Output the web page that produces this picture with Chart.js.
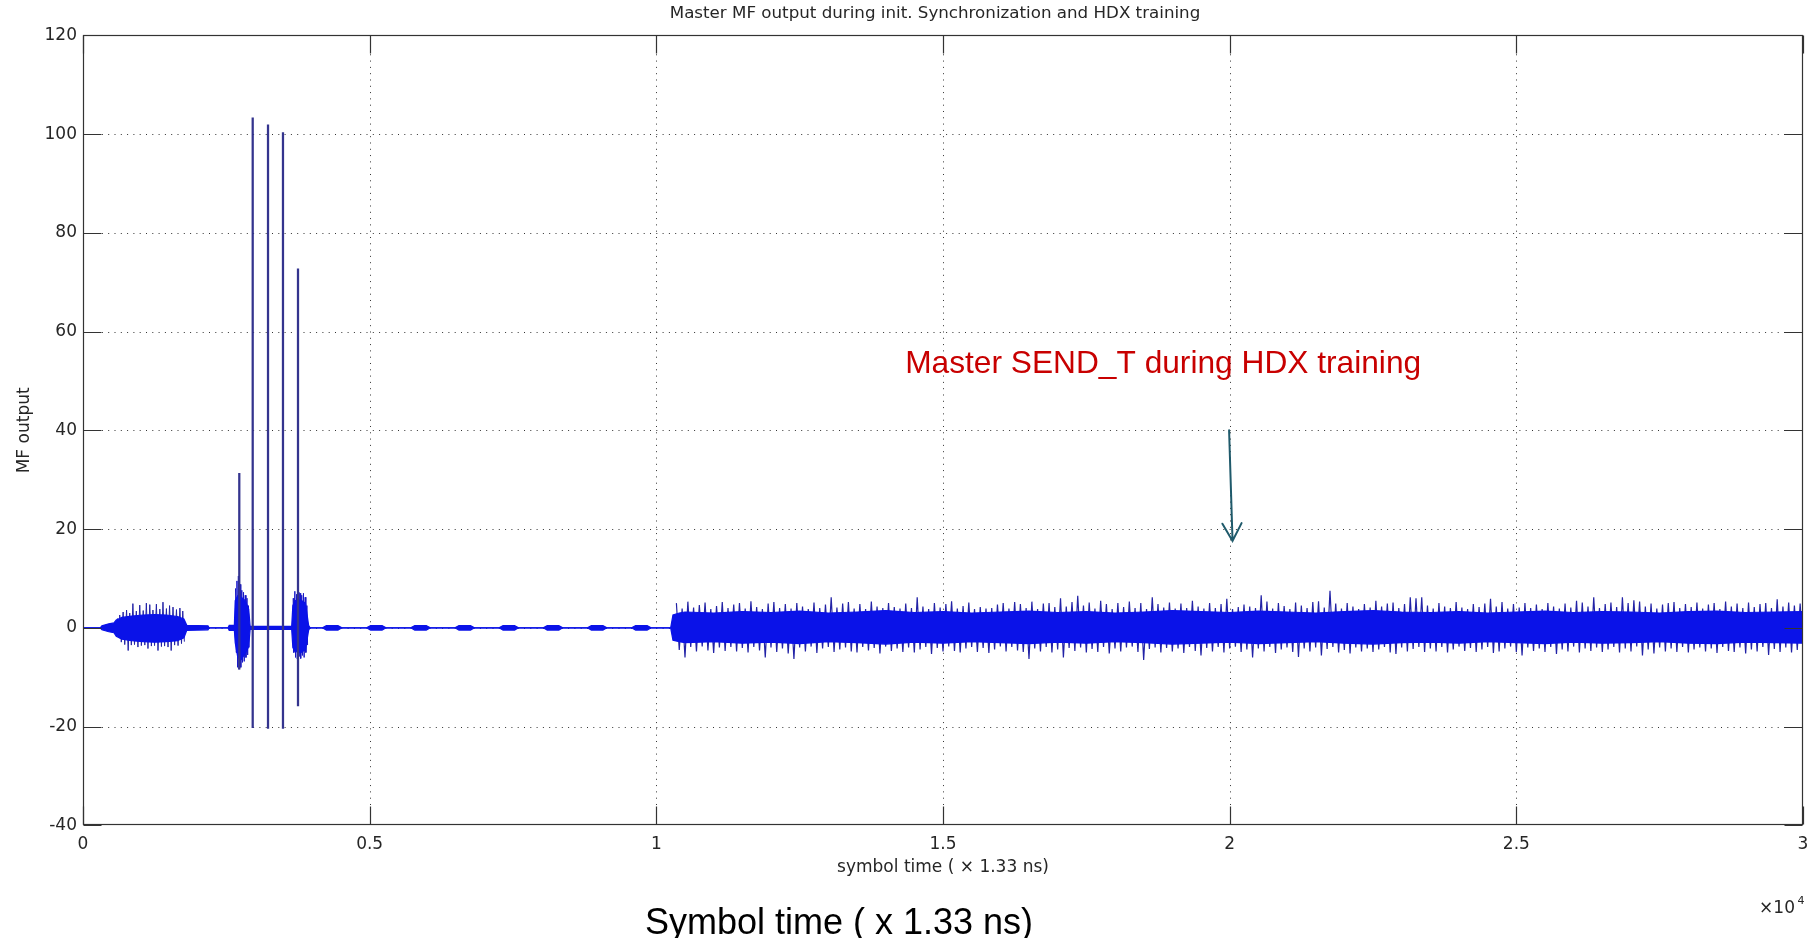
<!DOCTYPE html>
<html>
<head>
<meta charset="utf-8">
<script src="https://cdn.jsdelivr.net/npm/chart.js@4.4.1/dist/chart.umd.min.js"></script>
<style>
html,body{margin:0;padding:0;background:#fff;}
#wrap{position:relative;width:1812px;height:938px;overflow:hidden;background:#fff;}
#c{position:absolute;left:0;top:0;}
#bigLabel{position:absolute;left:839px;top:904px;transform:translateX(-50%);font-family:"Liberation Sans",Arial,sans-serif;font-size:36px;line-height:36px;white-space:nowrap;color:#000;}
</style>
</head>
<body>
<div id="wrap">
<canvas id="c" width="1812" height="938"></canvas>
<div id="bigLabel">Symbol time ( x 1.33 ns)</div>
</div>
<script>
// ---------------- text ----------------
const TITLE = 'Master MF output during init. Synchronization and HDX training';
const X_LABEL = 'symbol time ( \u00d7 1.33 ns)';
const Y_LABEL = 'MF output';
const X_EXPONENT = '4';
const NOTE_TEXT = 'Master SEND_T during HDX training';

// ---------------- ticks ----------------
const xTickValues = [0, 5000, 10000, 15000, 20000, 25000, 30000];
const xTickLabels = ['0', '0.5', '1', '1.5', '2', '2.5', '3'];
const yTickValues = [-40, -20, 0, 20, 40, 60, 80, 100, 120];
const yTickLabels = ['-40', '-20', '0', '20', '40', '60', '80', '100', '120'];

// ---------------- signal envelope before training (symbol index, upper, lower) ----------------
const envX = [0, 300, 330, 450, 540, 580, 680, 850, 1050, 1250, 1450, 1650, 1760, 1810, 2180, 2200,
  2530, 2550, 2640, 2655, 2700, 2760, 2830, 2890, 2915, 3640, 3660, 3700, 3800, 3880, 3935, 3960,
  4176, 4246, 4446, 4516, 4946, 5016, 5216, 5286, 5717, 5787, 5987, 6057, 6488, 6558, 6758, 6828,
  7257, 7327, 7527, 7597, 8028, 8098, 8298, 8368, 8798, 8868, 9068, 9138, 9569, 9639, 9839, 9909,
  10250, 10290, 10400];
const envHi = [0, 0, 0.4, 0.8, 1.0, 1.6, 2.1, 2.4, 2.6, 2.7, 2.6, 2.3, 1.8, 0.5, 0.4, 0,
  0, 0.5, 0.5, 5.5, 6.5, 6.2, 5.5, 3.8, 0.3, 0.3, 4.5, 5.5, 5.6, 5.0, 0.5, 0,
  0, 0.45, 0.45, 0, 0, 0.45, 0.45, 0, 0, 0.45, 0.45, 0, 0, 0.45, 0.45, 0,
  0, 0.45, 0.45, 0, 0, 0.45, 0.45, 0, 0, 0.45, 0.45, 0, 0, 0.45, 0.45, 0,
  0, 2.6, 3.0];
const envLo = [0, 0, -0.4, -0.8, -1.0, -1.7, -2.3, -2.6, -2.8, -2.9, -2.8, -2.6, -2.0, -0.5, -0.4, 0,
  0, -0.5, -0.5, -3.0, -6.0, -6.4, -5.2, -3.8, -0.3, -0.3, -4.0, -4.8, -5.0, -4.4, -0.5, 0,
  0, -0.45, -0.45, 0, 0, -0.45, -0.45, 0, 0, -0.45, -0.45, 0, 0, -0.45, -0.45, 0,
  0, -0.45, -0.45, 0, 0, -0.45, -0.45, 0, 0, -0.45, -0.45, 0, 0, -0.45, -0.45, 0,
  0, -2.5, -2.8];

// ---------------- training band core (every 500 symbols from 10500) ----------------
const CORE_START = 10500;
const CORE_STEP = 500;
const coreHi = [3.2, 3.0, 3.3, 3.1, 3.4, 3.0, 3.2, 3.5, 3.1, 3.3, 3.0, 3.2, 3.4, 3.1, 3.3, 3.0, 3.2, 3.5, 3.3, 3.1,
  3.4, 3.2, 3.0, 3.3, 3.5, 3.2, 3.1, 3.3, 3.0, 3.2, 3.4, 3.1, 3.3, 3.2, 3.0, 3.3, 3.4, 3.1, 3.2, 3.3];
const coreLo = [-3.0, -2.8, -3.1, -2.9, -3.2, -2.8, -3.0, -3.3, -2.9, -3.1, -2.8, -3.0, -3.2, -2.9, -3.1, -2.8, -3.0, -3.3, -3.1, -2.9,
  -3.2, -3.0, -2.8, -3.1, -3.3, -3.0, -2.9, -3.1, -2.8, -3.0, -3.2, -2.9, -3.1, -3.0, -2.8, -3.1, -3.2, -2.9, -3.0, -3.1];

// ---------------- synchronisation pulses ----------------
const pulseX  = [2726, 2960, 3227, 3488, 3750];
const pulseHi = [31.3, 103.3, 101.9, 100.3, 72.7];
const pulseLo = [-8.4, -20.2, -20.4, -20.4, -15.8];

// ---------------- burst peaks (upper / lower excursion per sample pair) ----------------
const burst1X  = [600, 640, 700, 760, 815, 870, 930, 990, 1050, 1105, 1165, 1220, 1280, 1340, 1395, 1455, 1510, 1570, 1630, 1690, 1740];
const burst1Hi = [1.9, 2.6, 3.2, 3.6, 3.0, 4.9, 3.4, 4.6, 3.5, 5.0, 4.7, 3.6, 4.8, 3.8, 5.2, 3.9, 4.5, 4.2, 3.7, 4.0, 3.4];
const burst1Lo = [-2.0, -2.9, -3.4, -4.6, -3.5, -3.4, -3.9, -3.6, -3.5, -4.2, -3.7, -3.6, -4.6, -3.8, -3.7, -3.9, -4.6, -3.5, -3.6, -3.2, -2.8];
const burst2X  = [2660, 2685, 2710, 2740, 2770, 2800, 2830, 2860, 2885];
const burst2Hi = [8.0, 9.5, 10.5, 8.8, 7.6, 7.2, 6.6, 6.0, 4.5];
const burst2Lo = [-5.0, -8.0, -8.4, -8.0, -7.0, -6.8, -6.0, -5.5, -4.0];
const burst3X  = [3665, 3695, 3725, 3755, 3785, 3815, 3845, 3875, 3905];
const burst3Hi = [6.0, 7.4, 6.8, 7.2, 7.0, 6.6, 7.0, 6.2, 4.5];
const burst3Lo = [-5.0, -6.0, -6.3, -5.8, -6.2, -5.6, -6.0, -5.0, -3.5];

// ---------------- HDX training peaks (one pair per 100 symbols from 10350) ----------------
const NOISE_START = 10350;
const NOISE_STEP = 100;
const noiseHi = [
  5.0, 3.9, 5.3, 4.1, 4.6, 5.1, 3.8, 4.4, 5.2, 4.0,
  4.7, 5.0, 3.9, 5.4, 4.2, 3.8, 4.9, 5.2, 4.0, 4.8,
  3.9, 5.0, 4.3, 3.8, 5.1, 4.0, 4.7, 6.2, 4.1, 4.9,
  5.2, 3.9, 4.8, 3.8, 5.3, 4.3, 4.0, 5.0, 4.2, 3.9,
  4.9, 4.0, 6.2, 4.3, 3.8, 5.0, 4.1, 4.8, 5.4, 3.9,
  4.4, 5.1, 3.8, 4.2, 3.9, 4.0, 4.7, 5.0, 3.9, 5.2,
  4.8, 4.0, 5.3, 3.8, 4.9, 5.0, 4.2, 6.0, 4.3, 5.2,
  6.5, 4.5, 5.1, 3.9, 5.5, 4.8, 3.8, 5.0, 4.2, 5.3,
  4.0, 5.0, 3.8, 6.2, 4.8, 4.1, 5.1, 3.9, 4.9, 4.0,
  5.5, 4.3, 3.9, 5.0, 4.0, 4.8, 5.9, 3.8, 4.2, 4.7,
  4.3, 4.0, 6.6, 5.3, 3.9, 5.0, 4.4, 3.8, 5.1, 4.5,
  4.0, 5.2, 5.4, 4.1, 7.5, 4.9, 3.9, 5.0, 4.3, 3.8,
  4.8, 4.1, 5.5, 4.3, 4.9, 5.1, 4.0, 4.8, 6.2, 6.0,
  6.2, 4.5, 3.9, 5.0, 4.3, 4.0, 5.2, 4.1, 3.8, 4.8,
  4.2, 4.9, 5.9, 4.3, 5.2, 3.9, 4.8, 4.1, 5.0, 4.0,
  4.7, 3.8, 5.0, 4.3, 3.9, 4.9, 4.1, 5.5, 5.1, 4.3,
  6.2, 4.0, 4.8, 5.1, 4.2, 6.2, 5.0, 5.6, 5.3, 4.3,
  4.9, 3.9, 4.7, 5.0, 5.2, 4.0, 4.8, 4.2, 5.1, 3.9,
  4.7, 5.0, 3.8, 5.3, 4.3, 4.9, 4.0, 5.1, 4.2, 4.8,
  5.0, 4.0, 5.8, 4.3, 5.1, 4.5, 4.9];
const noiseLo = [
  -4.5, -6.0, -3.9, -4.8, -3.8, -4.6, -5.1, -4.0, -4.7, -3.9,
  -4.8, -4.1, -5.0, -3.9, -4.6, -6.0, -4.0, -4.9, -4.2, -5.2,
  -6.3, -4.0, -4.8, -3.8, -5.1, -4.2, -3.9, -4.9, -4.4, -4.0,
  -4.8, -5.0, -3.9, -4.6, -4.1, -5.2, -3.8, -4.7, -4.2, -4.9,
  -4.0, -5.0, -4.4, -3.9, -5.3, -4.1, -4.8, -3.8, -4.7, -5.0,
  -4.2, -3.9, -4.9, -4.1, -5.1, -4.4, -3.8, -4.8, -3.9, -4.6,
  -4.9, -6.3, -4.2, -4.8, -3.9, -5.0, -4.4, -6.0, -4.1, -4.7,
  -4.0, -5.0, -4.3, -4.9, -3.9, -5.2, -4.2, -4.8, -4.0, -3.8,
  -4.9, -6.5, -4.3, -4.0, -5.0, -4.1, -4.8, -4.2, -5.1, -3.9,
  -4.7, -5.6, -4.1, -4.8, -3.9, -5.0, -4.2, -3.8, -4.9, -4.4,
  -6.0, -4.2, -4.8, -3.9, -5.1, -4.4, -4.0, -4.9, -5.9, -4.2,
  -4.8, -4.0, -5.6, -4.3, -3.9, -5.0, -4.5, -5.2, -4.0, -4.8,
  -4.2, -4.9, -4.4, -3.9, -5.0, -5.3, -4.0, -4.8, -4.3, -3.9,
  -4.9, -4.2, -4.8, -3.9, -5.0, -4.4, -3.8, -4.7, -4.1, -4.9,
  -4.4, -3.9, -5.1, -4.8, -4.2, -3.8, -4.9, -5.6, -4.0, -4.7,
  -4.2, -4.9, -3.9, -5.3, -4.4, -4.8, -3.8, -5.0, -4.2, -4.7,
  -4.0, -4.9, -4.4, -3.9, -5.0, -4.2, -4.8, -3.8, -5.6, -4.4,
  -5.2, -4.0, -4.8, -4.2, -4.9, -3.9, -5.0, -4.4, -4.0, -4.8,
  -4.2, -5.1, -3.9, -4.7, -4.9, -4.0, -5.2, -4.4, -4.8, -3.9,
  -5.5, -4.3, -4.9, -4.0, -5.0, -4.5, -4.2];

// ---------------- annotation (data coordinates) ----------------
const note = { x: 14340, y: 51.7 };
const arrow = { x0: 19990, y0: 40, x1: 20050, y1: 17.6 };

// ---------------- styling ----------------
const TEXT_COLOR = '#262626';
const AXIS_FONT = { family: 'DejaVu Sans', size: 17, weight: 'normal' };
const TITLE_FONT = { family: 'DejaVu Sans', size: 16.7, weight: 'normal' };
const TITLE_SHIFT = -8;
const BLUE = '#0a12e8';
const PEAK = '#2222a6';

Chart.defaults.font.family = 'DejaVu Sans';

// each peak pair: upper excursion at x, lower excursion half a step later
const zigzag = (xs, hi, lo, half) => xs.flatMap((v, i) => [{ x: v, y: hi[i] }, { x: v + half, y: lo[i] }]);
const noiseXs = noiseHi.map((_, i) => NOISE_START + i * NOISE_STEP);
const coreXs = coreHi.map((_, i) => CORE_START + i * CORE_STEP);
const upperPts = envX.map((v, i) => ({ x: v, y: envHi[i] })).concat(coreXs.map((v, i) => ({ x: v, y: coreHi[i] })));
const lowerPts = envX.map((v, i) => ({ x: v, y: envLo[i] })).concat(coreXs.map((v, i) => ({ x: v, y: coreLo[i] })));

const peakLine = (label, data, color, w) => ({
  type: 'line', label, data, borderColor: color, borderWidth: w,
  pointRadius: 0, tension: 0, fill: false
});

const matlabFrame = {
  id: 'matlabFrame',
  afterLayout(chart) {
    const tb = chart.titleBlock;
    if (tb) { tb.left += TITLE_SHIFT; tb.right += TITLE_SHIFT; }
  },
  beforeDatasetsDraw(chart) {
    const { ctx, chartArea: a, scales: { x, y } } = chart;
    ctx.save();
    ctx.strokeStyle = '#333';
    ctx.lineWidth = 1;
    ctx.setLineDash([1, 5.3]);
    ctx.beginPath();
    xTickValues.forEach(v => {
      if (v <= x.min || v >= x.max) return;
      const px = Math.round(x.getPixelForValue(v)) + 0.5;
      ctx.moveTo(px, a.top); ctx.lineTo(px, a.bottom);
    });
    yTickValues.forEach(v => {
      if (v <= y.min || v >= y.max) return;
      const py = Math.round(y.getPixelForValue(v)) + 0.5;
      ctx.moveTo(a.left, py); ctx.lineTo(a.right, py);
    });
    ctx.stroke();
    ctx.restore();
  },
  afterDatasetsDraw(chart) {
    const { ctx, chartArea: a, scales: { x, y } } = chart;
    const L = Math.round(a.left) + 0.5, R = Math.round(a.right) - 0.5;
    const T = Math.round(a.top) + 0.5, B = Math.round(a.bottom) - 0.5;
    const TL = 18;
    ctx.save();
    ctx.strokeStyle = '#333';
    ctx.lineWidth = 1.2;
    ctx.setLineDash([]);
    ctx.strokeRect(L, T, R - L, B - T);
    ctx.beginPath();
    xTickValues.forEach(v => {
      const px = Math.round(x.getPixelForValue(v)) + 0.5;
      ctx.moveTo(px, B); ctx.lineTo(px, B - TL);
      ctx.moveTo(px, T); ctx.lineTo(px, T + TL);
    });
    yTickValues.forEach(v => {
      const py = Math.round(y.getPixelForValue(v)) + 0.5;
      ctx.moveTo(L, py); ctx.lineTo(L + TL, py);
      ctx.moveTo(R, py); ctx.lineTo(R - TL, py);
    });
    ctx.stroke();

    // x10^4 exponent label
    ctx.fillStyle = TEXT_COLOR;
    ctx.textBaseline = 'middle';
    ctx.textAlign = 'right';
    ctx.font = '17px "DejaVu Sans"';
    ctx.fillText('\u00d710', a.right - 8, 909);
    ctx.textAlign = 'left';
    ctx.font = '11px "DejaVu Sans"';
    ctx.fillText(X_EXPONENT, a.right - 5.5, 901);

    // annotation text
    ctx.fillStyle = '#c80000';
    ctx.textAlign = 'left';
    ctx.textBaseline = 'alphabetic';
    ctx.font = '31.7px "Liberation Sans", Arial, sans-serif';
    ctx.fillText(NOTE_TEXT, x.getPixelForValue(note.x), y.getPixelForValue(note.y));

    // arrow
    const x0 = x.getPixelForValue(arrow.x0), y0 = y.getPixelForValue(arrow.y0);
    const x1 = x.getPixelForValue(arrow.x1), y1 = y.getPixelForValue(arrow.y1);
    const ang = Math.atan2(y1 - y0, x1 - x0);
    const hl = 20, ha = 0.5;
    ctx.strokeStyle = '#1f5a6b';
    ctx.lineWidth = 2;
    ctx.lineCap = 'round';
    ctx.beginPath();
    ctx.moveTo(x0, y0); ctx.lineTo(x1, y1);
    ctx.moveTo(x1 - hl * Math.cos(ang - ha), y1 - hl * Math.sin(ang - ha));
    ctx.lineTo(x1, y1);
    ctx.lineTo(x1 - hl * Math.cos(ang + ha), y1 - hl * Math.sin(ang + ha));
    ctx.stroke();
    ctx.restore();
  }
};

new Chart(document.getElementById('c'), {
  type: 'line',
  data: {
    datasets: [
      {
        type: 'bar', label: 'sync pulses',
        data: pulseX.map((v, i) => ({ x: v, y: [pulseLo[i], pulseHi[i]] })),
        backgroundColor: '#34348e', borderWidth: 0, barThickness: 1.6, grouped: false
      },
      {
        type: 'line', label: 'MF output (upper)', data: upperPts,
        borderColor: BLUE, backgroundColor: BLUE, borderWidth: 1.2,
        pointRadius: 0, tension: 0, fill: '+1'
      },
      {
        type: 'line', label: 'MF output (lower)', data: lowerPts,
        borderColor: BLUE, backgroundColor: BLUE, borderWidth: 1.2,
        pointRadius: 0, tension: 0, fill: false
      },
      peakLine('burst 1 peaks', zigzag(burst1X, burst1Hi, burst1Lo, 28), PEAK, 1),
      peakLine('burst 2 peaks', zigzag(burst2X, burst2Hi, burst2Lo, 12), '#1616c8', 1),
      peakLine('burst 3 peaks', zigzag(burst3X, burst3Hi, burst3Lo, 12), '#1616c8', 1),
      peakLine('HDX training peaks', zigzag(noiseXs, noiseHi, noiseLo, NOISE_STEP / 2), PEAK, 1.2)
    ]
  },
  options: {
    responsive: false,
    animation: false,
    devicePixelRatio: 1,
    events: [],
    layout: { padding: { left: 0, right: 9, top: 0, bottom: 0 } },
    plugins: {
      legend: { display: false },
      tooltip: { enabled: false },
      title: {
        display: true, text: TITLE, color: TEXT_COLOR, fullSize: false,
        font: TITLE_FONT, padding: { top: 4, bottom: 11.35 }
      }
    },
    scales: {
      x: {
        type: 'linear', min: 0, max: 30000, offset: false,
        grid: { display: false, drawTicks: true, tickLength: 9.5, offset: false },
        border: { display: false },
        afterBuildTicks: s => { s.ticks = xTickValues.map(v => ({ value: v })); },
        ticks: {
          autoSkip: false, maxRotation: 0, padding: 0, color: TEXT_COLOR, font: AXIS_FONT,
          callback: (v, i) => xTickLabels[i]
        },
        title: { display: true, text: X_LABEL, color: TEXT_COLOR, font: AXIS_FONT, padding: { top: 0, bottom: 60.5 } },
        afterFit: s => { s.height = 112.7; }
      },
      y: {
        type: 'linear', min: -40, max: 120, beginAtZero: false,
        grid: { display: false, drawTicks: false },
        border: { display: false },
        afterBuildTicks: s => { s.ticks = yTickValues.map(v => ({ value: v })); },
        ticks: { padding: 6, color: TEXT_COLOR, font: AXIS_FONT, callback: (v, i) => yTickLabels[i] },
        title: { display: true, text: Y_LABEL, color: TEXT_COLOR, font: AXIS_FONT, padding: { top: 14.3, bottom: 0 } },
        afterFit: s => { s.width = 83; }
      }
    }
  },
  plugins: [matlabFrame]
});
</script>
</body>
</html>
